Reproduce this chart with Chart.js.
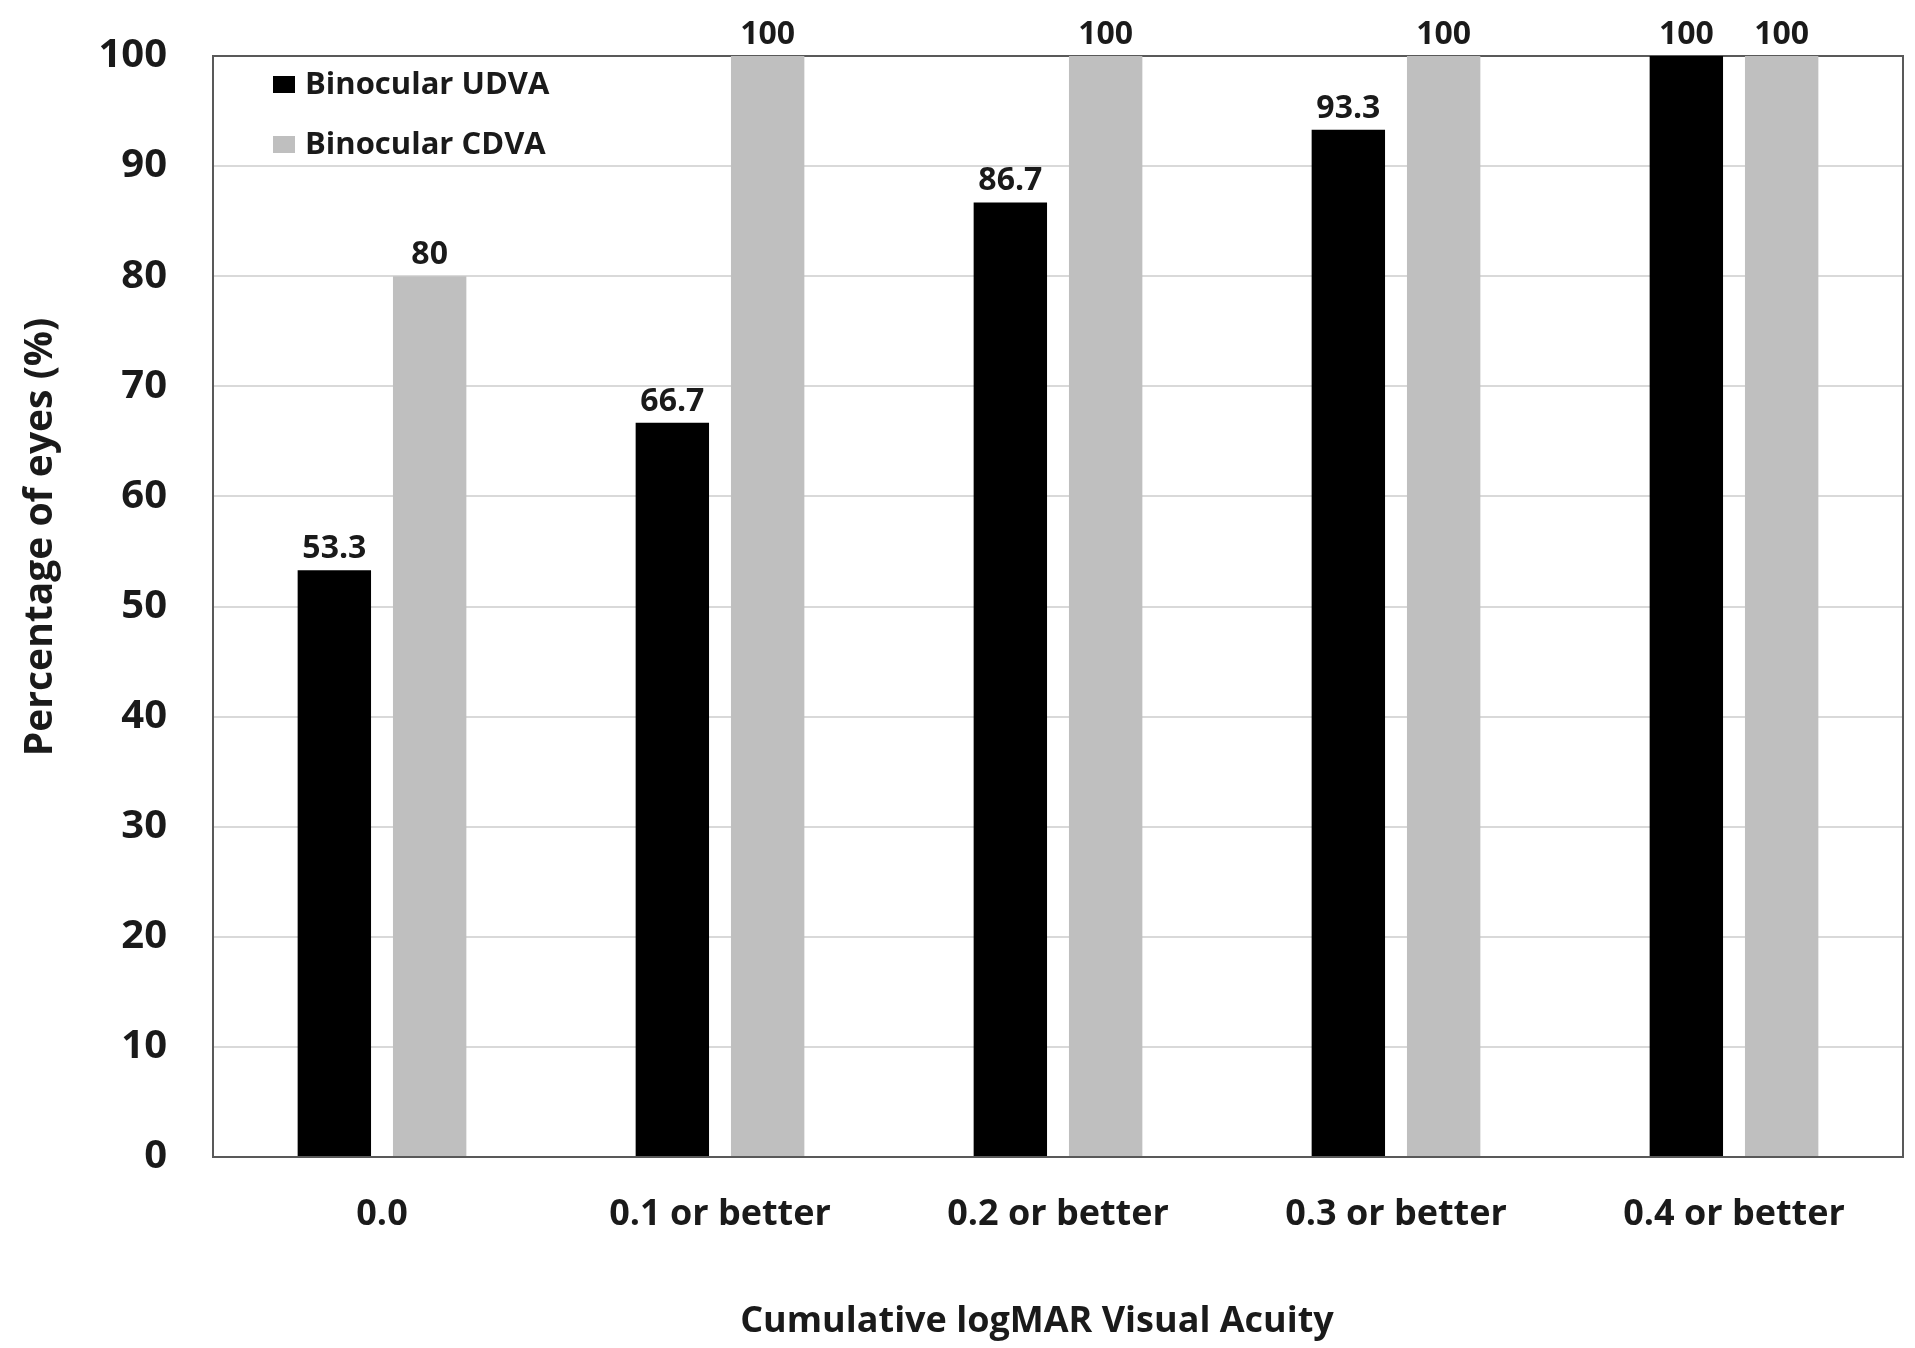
<!DOCTYPE html>
<html>
<head>
<meta charset="utf-8">
<script src="https://cdn.jsdelivr.net/npm/chart.js@4/dist/chart.umd.min.js"></script>
<style>
  html, body { margin: 0; padding: 0; background: #fff; }
  #wrap { width: 1915px; height: 1348px; position: relative; }
</style>
</head>
<body>
<div id="wrap"><canvas id="c" width="1915" height="1348"></canvas></div>
<script>
// Cumulative binocular visual acuity
const categories = ['0.0', '0.1 or better', '0.2 or better', '0.3 or better', '0.4 or better'];
const seriesNames = ['Binocular UDVA', 'Binocular CDVA'];
const udva = [53.3, 66.7, 86.7, 93.3, 100];
const cdva = [80, 100, 100, 100, 100];
const yTicks = [0, 10, 20, 30, 40, 50, 60, 70, 80, 90, 100];
const xTitle = 'Cumulative logMAR Visual Acuity';
const yTitle = 'Percentage of eyes (%)';

const FONT = '"Open Sans", Lato, sans-serif';
const colors = ['#000000', '#bfbfbf'];

// Value labels above each bar
const valueLabels = {
  id: 'valueLabels',
  afterDatasetsDraw(chart) {
    const ctx = chart.ctx;
    ctx.save();
    ctx.font = 'bold 32px ' + FONT;
    ctx.fillStyle = '#1a1a1a';
    ctx.textAlign = 'center';
    ctx.textBaseline = 'alphabetic';
    chart.data.datasets.forEach((ds, di) => {
      const meta = chart.getDatasetMeta(di);
      meta.data.forEach((bar, i) => {
        ctx.fillText(String(ds.data[i]), bar.x, bar.y - 12);
      });
    });
    ctx.restore();
  }
};

// Legend inside the plot area, plus the two axis titles
const decorations = {
  id: 'decorations',
  afterDraw(chart) {
    const ctx = chart.ctx;
    const a = chart.chartArea;
    ctx.save();
    ctx.font = 'bold 31px ' + FONT;
    ctx.textBaseline = 'middle';
    ctx.textAlign = 'left';
    chart.data.datasets.forEach((ds, di) => {
      const cy = a.top + 29 + di * 60;
      ctx.fillStyle = ds.backgroundColor;
      ctx.fillRect(a.left + 60, cy - 9, 22, 17);
      ctx.fillStyle = '#1a1a1a';
      ctx.fillText(ds.label, a.left + 92, cy);
    });

    ctx.font = 'bold 36px ' + FONT;
    ctx.textAlign = 'center';
    ctx.fillStyle = '#1a1a1a';
    ctx.fillText(xTitle, 1037, 1322);

    ctx.font = 'bold 39px ' + FONT;
    ctx.translate(41, 537);
    ctx.rotate(-Math.PI / 2);
    ctx.fillText(yTitle, 0, 0);
    ctx.restore();
  }
};

// Border round the plot area
const frame = {
  id: 'frame',
  beforeDatasetsDraw(chart) {
    const ctx = chart.ctx;
    const a = chart.chartArea;
    ctx.save();
    ctx.strokeStyle = '#595959';
    ctx.lineWidth = 2;
    ctx.strokeRect(a.left, a.top, a.right - a.left, a.bottom - a.top);
    ctx.restore();
  }
};

new Chart(document.getElementById('c'), {
  type: 'bar',
  data: {
    labels: categories,
    datasets: [
      { label: seriesNames[0], data: udva, backgroundColor: colors[0] },
      { label: seriesNames[1], data: cdva, backgroundColor: colors[1] }
    ]
  },
  options: {
    responsive: false,
    animation: false,
    devicePixelRatio: 1,
    categoryPercentage: 0.564,
    barPercentage: 0.77,
    layout: { padding: { left: 0, right: 12, top: 56, bottom: 0 } },
    plugins: { legend: { display: false }, tooltip: { enabled: false } },
    scales: {
      x: {
        grid: { display: false, drawTicks: false },
        border: { display: true, color: '#595959', width: 2 },
        ticks: { color: '#1a1a1a', font: { family: FONT, size: 36, weight: 'bold' }, padding: 36, maxRotation: 0 },
        afterFit(scale) {
          scale.height = 191;
          scale.paddingLeft = 0;
          scale.paddingRight = 0;
        }
      },
      y: {
        min: 0,
        max: 100,
        afterBuildTicks(scale) { scale.ticks = yTicks.map(v => ({ value: v })); },
        grid: { color: '#d9d9d9', lineWidth: 2, drawTicks: false },
        border: { display: true, color: '#595959', width: 2 },
        ticks: { color: '#1a1a1a', font: { family: FONT, size: 40, weight: 'bold' }, padding: 46 },
        afterFit(scale) {
          scale.width = 213;
          scale.paddingTop = 0;
          scale.paddingBottom = 0;
        }
      }
    }
  },
  plugins: [frame, valueLabels, decorations]
});
</script>
</body>
</html>
